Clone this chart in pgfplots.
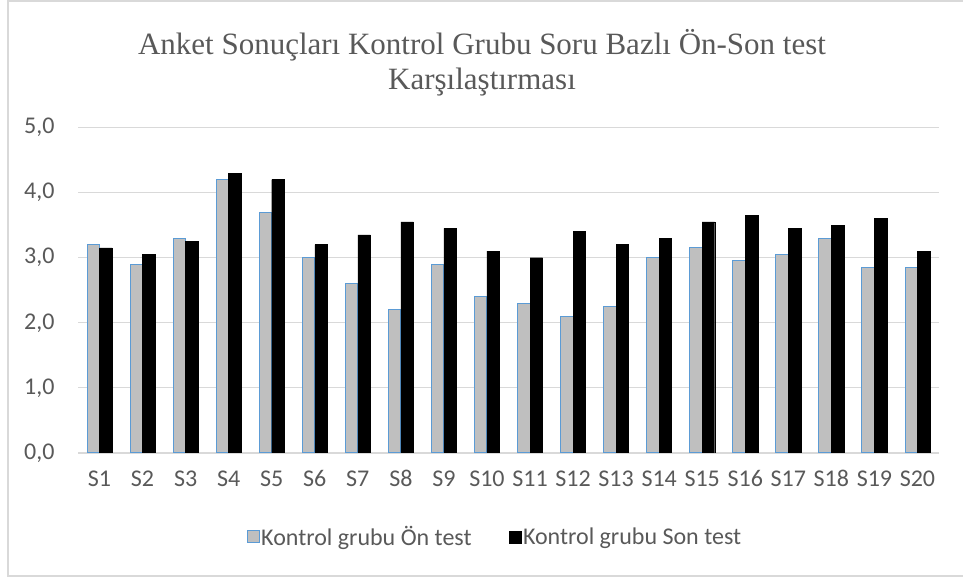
\documentclass[border=0pt]{standalone}
\usepackage{pgfplots}
\pgfplotsset{compat=1.18}
\usepackage{fontspec}
\setmainfont{Carlito}
\newfontfamily\titlefont{Liberation Serif}
\definecolor{txt}{HTML}{595959}
\definecolor{gridc}{HTML}{D9D9D9}
\definecolor{bargray}{HTML}{BFBFBF}
\definecolor{baredge}{HTML}{5B9BD5}
\begin{document}
\begin{tikzpicture}
\useasboundingbox (0pt,0pt) rectangle (963pt,578pt);
\draw[gridc, line width=1.5pt] (975pt,2pt) -- (8pt,2pt) -- (8pt,577pt) -- (975pt,577pt);
\node[align=center, text=txt, font=\titlefont\fontsize{31}{35}\selectfont] at (482pt,515pt) {Anket Sonuçları Kontrol Grubu Soru Bazlı Ön-Son test\\Karşılaştırması};
\begin{axis}[
  at={(78pt,125pt)}, anchor=south west, scale only axis,
  width=861pt, height=325.5pt,
  ymin=0, ymax=5, xmin=0.5, xmax=20.5,
  ybar=0pt, bar width=0.29,
  ytick={0,1,2,3,4,5},
  xtick={1,...,20},
  xticklabels={S1,S2,S3,S4,S5,S6,S7,S8,S9,S10,S11,S12,S13,S14,S15,S16,S17,S18,S19,S20},
  ymajorgrids, grid style={gridc, line width=1.2pt},
  axis x line*=bottom, axis y line*=left,
  x axis line style={gridc, line width=1.2pt, -},
  y axis line style={draw=none},
  major tick length=0pt,
  /pgf/number format/fixed, /pgf/number format/fixed zerofill,
  /pgf/number format/precision=1, /pgf/number format/use comma,
  /pgf/number format/assume math mode=true,
  ticklabel style={font=\fontsize{24}{24}\selectfont, text=txt},
  yticklabel style={xshift=-20pt},
  xticklabel style={yshift=-34pt, anchor=base, text depth=0pt},
  legend style={at={(0.484,-0.258)}, anchor=center, legend columns=2, draw=none, fill=none,
    font=\fontsize{24}{24}\selectfont, text=txt, inner sep=0pt,
    nodes={inner sep=1.5pt},
    /tikz/every even column/.append style={column sep=36pt}},
  legend image code/.code={\draw[#1] (0pt,-6pt) rectangle (12pt,6pt);},
]
\addplot[fill=bargray, draw=baredge, line width=1pt] coordinates {
(1,3.2) (2,2.9) (3,3.3) (4,4.2) (5,3.7) (6,3.0) (7,2.6) (8,2.2) (9,2.9) (10,2.4)
(11,2.3) (12,2.1) (13,2.25) (14,3.0) (15,3.15) (16,2.95) (17,3.05) (18,3.3) (19,2.85) (20,2.85)};
\addplot[fill=black, draw=black] coordinates {
(1,3.15) (2,3.05) (3,3.25) (4,4.3) (5,4.2) (6,3.2) (7,3.35) (8,3.55) (9,3.45) (10,3.1)
(11,3.0) (12,3.4) (13,3.2) (14,3.3) (15,3.55) (16,3.65) (17,3.45) (18,3.5) (19,3.6) (20,3.1)};
\legend{Kontrol grubu Ön test, Kontrol grubu Son test}
\end{axis}
\end{tikzpicture}
\end{document}
